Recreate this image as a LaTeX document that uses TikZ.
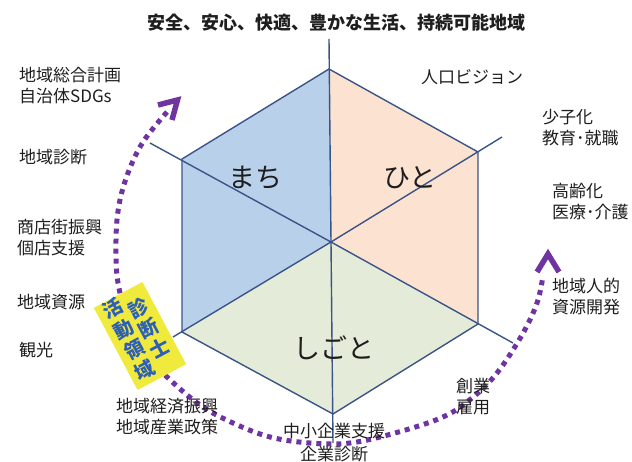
\documentclass[tikz,border=0pt]{standalone}
\usepackage{fontspec}
\setmainfont{Noto Sans CJK JP}
\definecolor{linec}{RGB}{58,84,135}
\definecolor{bluef}{RGB}{184,208,234}
\definecolor{pinkf}{RGB}{252,226,208}
\definecolor{greenf}{RGB}{228,235,216}
\definecolor{purp}{RGB}{112,52,160}
\definecolor{yel}{RGB}{239,234,60}
\definecolor{bluet}{RGB}{45,95,185}
\definecolor{txt}{RGB}{30,30,30}
\begin{document}
\begin{tikzpicture}[x=1pt,y=-1pt,
  axis/.style={draw=linec, line width=1.4pt},
  lab/.style={font=\fontsize{17}{21}\selectfont, text=txt, inner sep=0pt, align=left, anchor=west},
  big/.style={font=\fontsize{27}{30}\selectfont, text=txt, inner sep=0pt},
  dots/.style={draw=purp, line width=5pt, dash pattern=on 5pt off 5pt},
  chev/.style={draw=purp, line width=5.5pt, line join=miter, line cap=butt},
]
\useasboundingbox (0,0) rectangle (632,462);
\coordinate (C) at (331,242);
\coordinate (T) at (329,69);
\coordinate (UR) at (478,152);
\coordinate (LR) at (478,324);
\coordinate (B) at (333,414);
\coordinate (LL) at (182,332);
\coordinate (UL) at (182,159);
\coordinate (Te) at (329,39);
\coordinate (URe) at (502,137);
\coordinate (LRe) at (513,343);
\coordinate (Be) at (333,443);
\coordinate (LLe) at (173,337);
\coordinate (ULe) at (150,143);
\fill[bluef] (C) -- (T) -- (UL) -- (LL) -- cycle;
\fill[pinkf] (C) -- (T) -- (UR) -- (LR) -- cycle;
\fill[greenf] (C) -- (LR) -- (B) -- (LL) -- cycle;
\draw[axis, line join=miter] (T) -- (UR) -- (LR) -- (B) -- (LL) -- (UL) -- cycle;
\foreach \e in {Te,URe,LRe,Be,LLe,ULe} \draw[axis] (C) -- (\e);
% dotted arc
\draw[dots] plot[smooth, tension=0.6] coordinates {(167,112) (143,142) (128,173) (119,205) (116,240) (118,283) (130,325) (148,356) (167,377) (200,405) (233,423) (270,437) (310,443) (350,443) (395,433) (443,417) (472,398) (497,373) (522,335) (537,303) (543,276)};
\draw[chev] (158,105) -- (177.5,100) -- (172,120);
\draw[chev] (537,272) -- (548,254) -- (559,272);
% yellow label
\node[fill=yel, minimum width=55pt, minimum height=93pt, inner sep=0pt, rotate=28,
      font=\bfseries\fontsize{19.5}{21.5}\selectfont, text=bluet] (box) at (140,336)
  {\begin{tabular}{@{}c@{}}活\\動\\領\\域\end{tabular}\hspace{3.5pt}\begin{tabular}{@{}c@{}}診\\断\\士\end{tabular}};
% title and labels
\node[font=\bfseries\fontsize{18}{20}\selectfont, text=txt, inner sep=0pt] (title) at (336,23) {安全、安心、快適、豊かな生活、持続可能地域};
\node[lab] (l1) at (19,86) {地域総合計画\\自治体SDGs};
\node[lab] (l2) at (19,157) {地域診断};
\node[lab] (l3) at (17,238) {商店街振興\\個店支援};
\node[lab] (l4) at (17,302) {地域資源};
\node[lab] (l5) at (19,350) {観光};
\node[lab] (l6) at (116,417) {地域経済振興\\地域産業政策};
\node[lab, anchor=center, align=center, font=\fontsize{17}{23}\selectfont] (l7) at (334,443) {中小企業支援\\企業診断};
\node[lab] (l8) at (456,397) {創業\\雇用};
\node[lab] (l9) at (552,297) {地域人的\\資源開発};
\node[lab] (l10) at (552,202) {高齢化\\医療･介護};
\node[lab] (l11) at (542,128) {少子化\\教育･就職};
\node[lab] (l12) at (421,77) {人口ビジョン};
\node[big] (machi) at (255,178) {まち};
\node[big] (hito) at (410,178) {ひと};
\node[big] (shigoto) at (334,348) {しごと};
\end{tikzpicture}
\end{document}
